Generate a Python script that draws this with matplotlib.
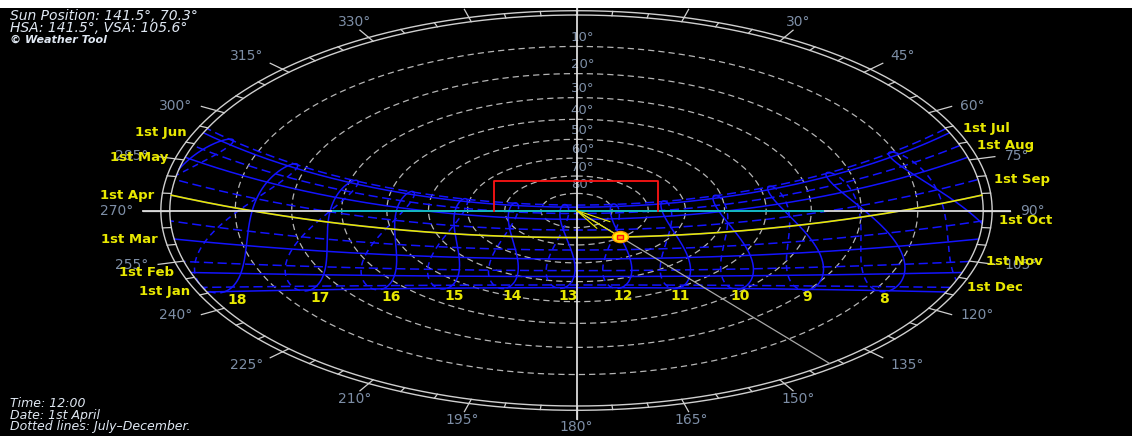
import numpy as np
import matplotlib
matplotlib.use("Agg")
import matplotlib.pyplot as plt
from matplotlib.patches import Ellipse, Rectangle

# ---------------------------------------------------------------- data
LATITUDE = 20.0             # site latitude, degrees north
LONGITUDE_OFFSET = -11.05   # site longitude minus time-zone meridian, degrees

MONTHS = ["Jan", "Feb", "Mar", "Apr", "May", "Jun",
          "Jul", "Aug", "Sep", "Oct", "Nov", "Dec"]
MONTH_START_DAY = [1, 32, 60, 91, 121, 152, 182, 213, 244, 274, 305, 335]
HOURS = list(range(5, 21))
LABELLED_HOURS = list(range(8, 19))
ALTITUDE_RINGS = [10, 20, 30, 40, 50, 60, 70, 80]
AZIMUTH_LABELS = list(range(30, 331, 15))

CURRENT_DAY = 91            # 1st April
CURRENT_TIME = "12:00"
SUN_AZIMUTH = 141.5
SUN_ALTITUDE = 70.3
HSA = 141.5
VSA = 105.6

# shading outline and window line on the projection plane
SHADE_X = [-0.203, -0.203, 0.200, 0.200]
SHADE_Y = [0.0, 0.151, 0.151, 0.0]
WINDOW_X = [-0.599, 0.606]
WINDOW_Y = [0.0, 0.0]
# HSA / VSA indicator ends
FAN_X = [0.082, 0.050]
FAN_Y = [-0.057, -0.091]

# ---------------------------------------------------------------- layout
W, H = 1132, 436
CX, CY = 576.5, 210.5
RX, RY = 406.7, 195.5

BLUE = "#1414ff"
YELLOW = "#e8e800"
GREY_TXT = "#7d8ea6"
RING = "#cfcfcf"
FONT = "DejaVu Sans"


def solar_position(day, clock_hour):
    b = 2 * np.pi * (np.asarray(day, float) - 1) / 365.0
    dec = (0.006918 - 0.399912 * np.cos(b) + 0.070257 * np.sin(b)
           - 0.006758 * np.cos(2 * b) + 0.000907 * np.sin(2 * b)
           - 0.002697 * np.cos(3 * b) + 0.00148 * np.sin(3 * b))
    eot = 229.18 * (0.000075 + 0.001868 * np.cos(b) - 0.032077 * np.sin(b)
                    - 0.014615 * np.cos(2 * b) - 0.04089 * np.sin(2 * b))
    solar_time = clock_hour + (4 * LONGITUDE_OFFSET + eot) / 60.0
    h = np.radians(15 * (solar_time - 12))
    lat = np.radians(LATITUDE)
    sin_alt = np.sin(lat) * np.sin(dec) + np.cos(lat) * np.cos(dec) * np.cos(h)
    alt = np.degrees(np.arcsin(np.clip(sin_alt, -1, 1)))
    east = -np.cos(dec) * np.sin(h)
    north = np.cos(lat) * np.sin(dec) - np.sin(lat) * np.cos(dec) * np.cos(h)
    az = np.degrees(np.arctan2(east, north)) % 360
    return az, alt


def project(az, alt):
    """Stereographic projection, north up, east right."""
    r = np.tan(np.radians(90 - np.asarray(alt, float)) / 2)
    a = np.radians(az)
    return r * np.sin(a), r * np.cos(a)


fig = plt.figure(figsize=(W / 100, H / 100), dpi=100, facecolor="black")
ax = fig.add_axes([0, 0, 1, 1])
ax.set_xlim(-CX / RX, (W - CX) / RX)
ax.set_ylim(-(H - CY) / RY, CY / RY)
ax.axis("off")

# ---------------------------------------------------------------- grid
theta = np.linspace(0, 2 * np.pi, 1441)
for a in ALTITUDE_RINGS:
    r = np.tan(np.radians(90 - a) / 2)
    ax.plot(r * np.sin(theta), r * np.cos(theta), color="#b5b5b5", lw=0.9,
            dashes=(5, 3.2), zorder=2)
    ax.text(6 / RX, r + 9 / RY, f"{a}°", color=GREY_TXT, fontsize=9.5,
            family=FONT, ha="center", va="center", zorder=6)

for r in (1.0, 1.022):
    ax.plot(r * np.sin(theta), r * np.cos(theta), color=RING, lw=1.0, zorder=4)

for az in range(0, 360, 5):
    s, c = np.sin(np.radians(az)), np.cos(np.radians(az))
    ax.plot([s, 1.022 * s], [c, 1.022 * c], color=RING, lw=0.9, zorder=4)
for az in range(0, 360, 15):
    s, c = np.sin(np.radians(az)), np.cos(np.radians(az))
    ax.plot([1.022 * s, 1.065 * s], [1.022 * c, 1.065 * c], color=RING,
            lw=0.9, zorder=4)
for az in AZIMUTH_LABELS:
    s, c = np.sin(np.radians(az)), np.cos(np.radians(az))
    ha = "left" if s > 0.6 else ("right" if s < -0.6 else "center")
    va = "bottom" if c > 0.6 else ("top" if c < -0.6 else "center")
    ax.text(1.09 * s, 1.07 * c, f"{az}°", color=GREY_TXT, fontsize=10,
            family=FONT, ha=ha, va=va, zorder=6)

ax.plot([-1.065, 1.065], [0, 0], color="#dcdcdc", lw=1.3, zorder=7)
ax.plot([0, 0], [-1.065, 1.065], color="#dcdcdc", lw=1.3, zorder=7)

# ---------------------------------------------------------------- daily paths
t = np.arange(0, 24, 1 / 120)
for name, day in zip(MONTHS, MONTH_START_DAY):
    az, alt = solar_position(day, t)
    x, y = project(az, alt)
    up = alt >= 0
    x = np.where(up, x, np.nan)
    y = np.where(up, y, np.nan)
    first_half = day < 182
    style = dict(color=BLUE, lw=1.1, zorder=3)
    if first_half:
        ax.plot(x, y, ls="-", **style)
    else:
        ax.plot(x, y, dashes=(6, 3), **style)
    idx = np.where(up)[0]
    if first_half:
        i, dx, ha = idx[-1], -17, "right"
    else:
        i, dx, ha = idx[0], 17, "left"
    ax.text(x[i] + dx / RX, y[i], f"1st {name}", color=YELLOW, fontsize=9.5,
            fontweight="bold", family=FONT, ha=ha, va="center", zorder=8)

# ---------------------------------------------------------------- hour analemmas
days = np.arange(1, 366.01, 0.25)
for hr in HOURS:
    az, alt = solar_position(days, hr)
    x, y = project(az, alt)
    x = np.where(alt >= 0, x, np.nan)
    y = np.where(alt >= 0, y, np.nan)
    first = days <= 182
    second = days >= 182
    ax.plot(x[first], y[first], color=BLUE, lw=1.1, zorder=3)
    ax.plot(x[second], y[second], color=BLUE, lw=1.1, dashes=(4, 3), zorder=3)

for hr in LABELLED_HOURS:
    az, alt = solar_position(MONTH_START_DAY[0], hr)
    x, y = project(az, alt)
    ax.text(x * 0.975 + 3 / RX, y - 8 / RY, str(hr), color=YELLOW,
            fontsize=10, fontweight="bold", family=FONT, ha="center",
            va="center", zorder=8)

# ---------------------------------------------------------------- current day
az, alt = solar_position(CURRENT_DAY, t)
x, y = project(az, alt)
x = np.where(alt >= 0, x, np.nan)
y = np.where(alt >= 0, y, np.nan)
ax.plot(x, y, color=YELLOW, lw=1.2, zorder=5)

# ---------------------------------------------------------------- shading
ax.plot(WINDOW_X, WINDOW_Y, color="#10b4c0", lw=1.4, zorder=8)
ax.plot(SHADE_X, SHADE_Y, color="#ff1414", lw=1.3, zorder=9)

# ---------------------------------------------------------------- sun
sx, sy = project(SUN_AZIMUTH, SUN_ALTITUDE)
ex, ey = project(SUN_AZIMUTH, 0.0)
ax.plot([0, ex], [0, ey], color="#a8a8a8", lw=0.9, zorder=6)
for fx, fy in zip(FAN_X, FAN_Y):
    ax.plot([0, fx], [0, fy], color=YELLOW, lw=0.8, zorder=9)
ax.plot([0, sx], [0, sy], color=YELLOW, lw=0.8, zorder=9)
ax.add_patch(Ellipse((sx, sy), 16 / RX, 11 / RY, facecolor="#ffee00",
                     edgecolor="#ff9900", lw=1.0, zorder=10))
ax.add_patch(Rectangle((sx - 3 / RX, sy - 2 / RY), 6 / RX, 4 / RY,
                       facecolor="#ffb000", edgecolor="#ff1010", lw=1.0,
                       zorder=11))

# ---------------------------------------------------------------- captions
TXT = "#dfe7f2"
cap = dict(color=TXT, family=FONT, style="italic", va="baseline", ha="left")
fig.text(10 / W, 1 - 19.5 / H,
         f"Sun Position: {SUN_AZIMUTH}°, {SUN_ALTITUDE}°", fontsize=10, **cap)
fig.text(10 / W, 1 - 32 / H, f"HSA: {HSA}°, VSA: {VSA}°",
         fontsize=10, **cap)
fig.text(10 / W, 1 - 43 / H, "© Weather Tool", fontsize=8,
         fontweight="bold", **cap)
fig.text(10 / W, 1 - 407 / H, f"Time: {CURRENT_TIME}", fontsize=9, **cap)
fig.text(10 / W, 1 - 418.5 / H, "Date: 1st April", fontsize=9, **cap)
fig.text(10 / W, 1 - 430 / H, "Dotted lines: July–December.", fontsize=9,
         **cap)

fig.add_artist(Rectangle((0, 1 - 8 / H), 1, 8 / H, transform=fig.transFigure,
                         facecolor="white", edgecolor="none", zorder=100))

fig.savefig("out.png", dpi=100, facecolor="black")
